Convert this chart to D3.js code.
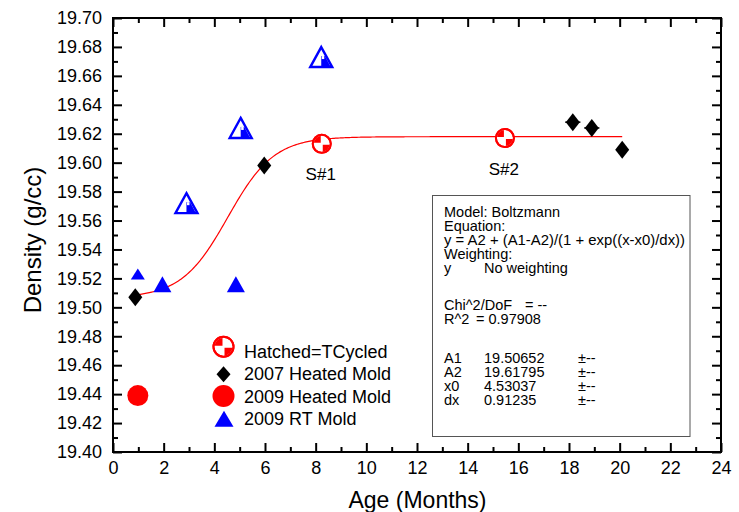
<!DOCTYPE html>
<html><head><meta charset="utf-8">
<script src="https://cdn.jsdelivr.net/npm/d3@7"></script>
<style>
body{margin:0;background:#fff;}
svg{display:block;font-family:"Liberation Sans",Arial,sans-serif;}
</style></head>
<body><svg id="chart" width="739" height="512"></svg>
<script>
// ---- data ----
const heated2007X = [0.88, 5.97, 18.15, 18.9, 20.1];
const heated2007Y = [19.507, 19.598, 19.628, 19.624, 19.609];
const heated2007XErr = [0, 0, 0.3, 0.3, 0];
const rt2009X = [0.98, 1.95, 4.85];
const rt2009Y = [19.523, 19.516, 19.516];
const rt2009Small = [true, false, false];
const rt2009HatchedX = [2.9, 5.04, 8.22];
const rt2009HatchedY = [19.572, 19.624, 19.673];
const tcycledX = [8.24, 15.47];
const tcycledY = [19.613, 19.617];
const tcycledLabels = ["S#1", "S#2"];
const heated2009X = [0.98];
const heated2009Y = [19.439];
const xTicks = [0,2,4,6,8,10,12,14,16,18,20,22,24];
const yTicks = [19.40,19.42,19.44,19.46,19.48,19.50,19.52,19.54,19.56,19.58,19.60,19.62,19.64,19.66,19.68,19.70];
const legendLabels = ["Hatched=TCycled","2007 Heated Mold","2009 Heated Mold","2009 RT Mold"];
// Boltzmann fit parameters (from the fit box)
const fitA1 = 19.50652, fitA2 = 19.61795, fitX0 = 4.53037, fitDx = 0.91235;
const boxLines = [
  ["Model: Boltzmann"],
  ["Equation:"],
  ["y = A2 + (A1-A2)/(1 + exp((x-x0)/dx))"],
  ["Weighting:"],
  ["y","No weighting"]
];
const boxStats = [["Chi^2/DoF","= --"],["R^2","= 0.97908"]];
const boxParams = [["A1","19.50652","\u00b1--"],["A2","19.61795","\u00b1--"],["x0","4.53037","\u00b1--"],["dx","0.91235","\u00b1--"]];

// ---- layout ----
const L = 113, R = 721, T = 18, B = 452;
const svg = d3.select("#chart");
svg.append("rect").attr("width",739).attr("height",512).attr("fill","#fff");
const x = d3.scaleLinear().domain([0,24]).range([L,R]);
const y = d3.scaleLinear().domain([19.40,19.70]).range([B,T]);

const defs = svg.append("defs");
const triW = 22, triH = 20;
defs.append("clipPath").attr("id","triClip").append("path")
  .attr("d",`M0,${-triH/2+2}L${triW/2-2},${triH/2-1}L${-triW/2+2},${triH/2-1}Z`);

// ---- axes ----
function axisWithMinor(axisFn, scale, majors, minorStep, sizeMaj, sizeMin){
  return g => {
    const d = scale.domain();
    const minors = d3.range(d[0], d[1]+1e-9, minorStep).filter(v => !majors.some(m => Math.abs(m-v)<1e-9));
    g.append("g").call(axisFn(scale).tickValues(minors).tickSize(sizeMin).tickFormat(""));
    g.append("g").call(axisFn(scale).tickValues(majors).tickSize(sizeMaj).tickFormat(""));
    g.selectAll(".domain").remove();
    g.selectAll("line").attr("stroke","#000").attr("stroke-width",2);
  };
}
svg.append("g").attr("transform",`translate(0,${B})`).call(axisWithMinor(d3.axisTop, x, xTicks, 1, 9, 5));
svg.append("g").attr("transform",`translate(0,${B})`).call(d3.axisBottom(x).tickValues(xTicks).tickSize(0).tickPadding(9).tickFormat(d3.format("d")))
  .call(g=>{g.select(".domain").remove(); g.selectAll("text").attr("font-size",18).attr("fill","#000").attr("font-family","Liberation Sans, Arial, sans-serif");});
svg.append("g").attr("transform",`translate(0,${T})`).call(axisWithMinor(d3.axisBottom, x, xTicks, 1, 9, 5));
svg.append("g").attr("transform",`translate(${L},0)`).call(axisWithMinor(d3.axisRight, y, yTicks, 0.01, 9, 5));
svg.append("g").attr("transform",`translate(${L},0)`).call(d3.axisLeft(y).tickValues(yTicks).tickSize(0).tickPadding(11).tickFormat(d3.format(".2f")))
  .call(g=>{g.select(".domain").remove(); g.selectAll("text").attr("font-size",18).attr("fill","#000").attr("font-family","Liberation Sans, Arial, sans-serif");});
svg.append("g").attr("transform",`translate(${R},0)`).call(axisWithMinor(d3.axisLeft, y, yTicks, 0.01, 9, 5));
svg.append("rect").attr("x",L).attr("y",T).attr("width",R-L).attr("height",B-T)
  .attr("fill","none").attr("stroke","#000").attr("stroke-width",2);

// axis titles
svg.append("text").attr("x",(L+R)/2+0.5).attr("y",508).attr("text-anchor","middle")
  .attr("font-size",24).attr("textLength",138).attr("lengthAdjust","spacingAndGlyphs").text("Age (Months)");
svg.append("text").attr("transform","translate(41,240) rotate(-90)").attr("text-anchor","middle")
  .attr("font-size",24).text("Density (g/cc)");

// ---- fit box ----
svg.append("rect").attr("x",432.5).attr("y",195.5).attr("width",257.5).attr("height",241)
  .attr("fill","#fff").attr("stroke","#555").attr("stroke-width",1);
const bt = svg.append("g").attr("font-size",14.5).attr("fill","#000");
const lineY = [217, 231, 245, 259, 273];
boxLines.forEach((l,i)=>{
  const t = bt.append("text").attr("x",444).attr("y",lineY[i]).text(l[0]);
  if(i===2) t.attr("textLength",241).attr("lengthAdjust","spacingAndGlyphs");
  if(l[1]) bt.append("text").attr("x",484).attr("y",lineY[i]).text(l[1]);
});
const statY = [310, 324], statX = [525,476];
boxStats.forEach((s,i)=>{
  bt.append("text").attr("x",444).attr("y",statY[i]).text(s[0]);
  bt.append("text").attr("x",statX[i]).attr("y",statY[i]).text(s[1]);
});
const parY = [363, 377, 391, 405];
boxParams.forEach((p,i)=>{
  bt.append("text").attr("x",444).attr("y",parY[i]).text(p[0]);
  bt.append("text").attr("x",484).attr("y",parY[i]).text(p[1]);
  bt.append("text").attr("x",578).attr("y",parY[i]).text(p[2]);
});

// ---- fit curve ----
const xmin = d3.min(heated2007X), xmax = d3.max(heated2007X);
const fitXs = d3.range(xmin, xmax, 0.05).concat([xmax]);
const boltz = t => fitA2 + (fitA1-fitA2)/(1+Math.exp((t-fitX0)/fitDx));
svg.append("path").datum(fitXs)
  .attr("d", d3.line().x(d=>x(d)).y(d=>y(boltz(d))))
  .attr("fill","none").attr("stroke","#ff0000").attr("stroke-width",1.2);

// ---- marker drawers ----
function diamond(g, hw, hh){
  g.append("path").attr("d",`M0,${-hh}L${hw},0L0,${hh}L${-hw},0Z`).attr("fill","#000");
}
function triangle(g, w, h){
  g.append("path").attr("d",`M0,${-h/2}L${w/2},${h/2}L${-w/2},${h/2}Z`).attr("fill","#0000ff");
}
function hatchedTriangle(g){
  g.append("path").attr("d",`M0,${-triH/2}L${triW/2},${triH/2}L${-triW/2},${triH/2}Z`)
    .attr("fill","#fff").attr("stroke","#0000ff").attr("stroke-width",2.4).attr("stroke-linejoin","miter");
  g.append("rect").attr("x",0).attr("y",-1).attr("width",triW/2).attr("height",triH/2+1)
    .attr("fill","#0000ff").attr("clip-path","url(#triClip)");
  g.append("rect").attr("x",0.5).attr("y",-1).attr("width",2.5).attr("height",3)
    .attr("fill","#fff").attr("clip-path","url(#triClip)");
}
function hatchedCircle(g, r){
  g.append("circle").attr("r",r).attr("fill","#fff").attr("stroke","#ff0000").attr("stroke-width",2);
  const arc = d3.arc().innerRadius(0).outerRadius(r-1);
  g.append("path").attr("d",arc({startAngle:-Math.PI/2,endAngle:0})).attr("fill","#ff0000");
  g.append("path").attr("d",arc({startAngle:Math.PI/2,endAngle:Math.PI})).attr("fill","#ff0000");
  g.append("path").attr("d",`M${-r+1},0H${r-1}M0,${-r+1}V${r-1}`).attr("stroke","#fff").attr("stroke-width",2);
  g.append("circle").attr("r",r).attr("fill","none").attr("stroke","#ff0000").attr("stroke-width",2);
}
function filledCircle(g, r){
  g.append("circle").attr("r",r).attr("fill","#ff0000");
}

// ---- points ----
const pts = svg.append("g");
rt2009X.forEach((v,i)=>{
  const g = pts.append("g").attr("transform",`translate(${x(v)},${y(rt2009Y[i])})`);
  if(rt2009Small[i]) triangle(g,14,11); else triangle(g,18,16);
});
rt2009HatchedX.forEach((v,i)=>{
  hatchedTriangle(pts.append("g").attr("transform",`translate(${x(v)},${y(rt2009HatchedY[i])})`));
});
heated2007X.forEach((v,i)=>{
  const e = heated2007XErr[i];
  if(e>0){
    pts.append("path").attr("d",`M${x(v-e)},${y(heated2007Y[i])}H${x(v+e)}`).attr("stroke","#000").attr("stroke-width",1.5);
  }
  diamond(pts.append("g").attr("transform",`translate(${x(v)},${y(heated2007Y[i])})`),7,9);
});
tcycledX.forEach((v,i)=>{
  hatchedCircle(pts.append("g").attr("transform",`translate(${x(v)},${y(tcycledY[i])})`),9);
  pts.append("text").attr("x",x(v)-1).attr("y",y(tcycledY[i])+(i===0?36:37)).attr("text-anchor","middle")
    .attr("font-size",17).text(tcycledLabels[i]);
});
heated2009X.forEach((v,i)=>{
  filledCircle(pts.append("g").attr("transform",`translate(${x(v)},${y(heated2009Y[i])})`),10.5);
});

// ---- legend ----
const legRowY = [346.7, 374.3, 396, 418.7];
const legTextY = [357.5, 380, 402.5, 425];
const lg = svg.append("g");
hatchedCircle(lg.append("g").attr("transform",`translate(223.5,${legRowY[0]})`),10);
diamond(lg.append("g").attr("transform",`translate(223.5,${legRowY[1]})`),7,8);
filledCircle(lg.append("g").attr("transform",`translate(223.5,${legRowY[2]})`),11);
triangle(lg.append("g").attr("transform",`translate(224,${legRowY[3]})`),19,16);
legendLabels.forEach((t,i)=>{
  lg.append("text").attr("x",244).attr("y",legTextY[i]).attr("font-size",18).text(t);
});
</script>
</body></html>
